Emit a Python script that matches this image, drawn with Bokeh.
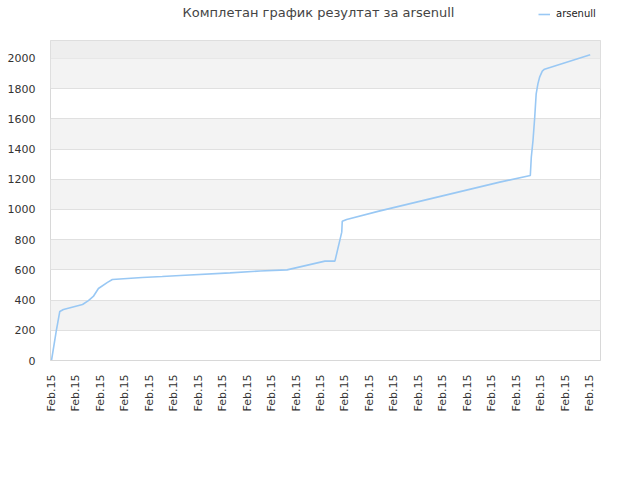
import math
from bokeh.plotting import figure
from bokeh.layouts import column
from bokeh.models import (FixedTicker, Range1d, Legend, LegendItem, BoxAnnotation, Label)
from bokeh.embed import file_html
from bokeh.resources import INLINE

# data: time position (in label steps) and cumulative result
t_vals = [0.0, 0.20, 0.34, 0.49, 1.27, 1.51, 1.71, 1.92, 2.29, 2.49, 3.71, 4.53, 5.27,
          7.30, 8.53, 9.63, 11.18, 11.59, 11.87, 11.89, 12.07, 13.39, 18.33, 19.58,
          19.62, 19.69, 19.76, 19.82, 19.89, 19.96, 20.07, 20.16, 22.03]
scores = [0, 199, 325, 338, 371, 397, 424, 477, 517, 536, 550, 556, 563,
          580, 593, 600, 658, 658, 850, 922, 934, 989, 1181, 1225,
          1346, 1457, 1611, 1766, 1832, 1876, 1916, 1929, 2025]
x_tick_labels = ["Feb.15"] * 23
y_ticks = [0, 200, 400, 600, 800, 1000, 1200, 1400, 1600, 1800, 2000]
series_name = "arsenull"
title_text = "Комплетан график резултат за arsenull"

LINE_COLOR = "#99c8f4"
W = 640
HDR_SHIFT = 50  # header frame is aligned with the main frame's left edge

# ---- header strip: title + legend ----
top = figure(width=W, height=40, output_backend="svg", toolbar_location=None,
             x_range=Range1d(0, 1), y_range=Range1d(0, 1),
             x_axis_location=None, y_axis_location=None,
             min_border_left=0, min_border_right=0, min_border_top=0,
             min_border_bottom=0)
top.grid.visible = False
top.outline_line_color = None
top.background_fill_color = "white"
top.border_fill_color = "white"
top.add_layout(Label(x=318 - HDR_SHIFT, y=28, x_units="screen", y_units="screen",
                     text=title_text, text_align="center", text_baseline="middle",
                     text_font="DejaVu Sans", text_font_size="13px",
                     text_color="#444444"))
# legend proxy: a line renderer with a single undefined point (draws nothing itself)
dummy = top.line([float("nan")], [float("nan")], line_color=LINE_COLOR, line_width=1.6)
legend = Legend(items=[LegendItem(label=series_name, renderers=[dummy])],
                location=(538 - HDR_SHIFT, 21), orientation="horizontal",
                background_fill_alpha=0, border_line_color=None,
                label_text_font="DejaVu Sans", label_text_font_size="10px",
                label_text_color="#222222", glyph_width=12, glyph_height=10,
                padding=0, margin=0, label_standoff=6, label_height=10)
top.add_layout(legend, "center")

# ---- main chart ----
p = figure(width=W, height=440, output_backend="svg", toolbar_location=None,
           x_range=Range1d(-0.04, 22.45), y_range=Range1d(0, 2119),
           min_border_left=50, min_border_right=40, min_border_top=0,
           min_border_bottom=120)
p.background_fill_color = "white"
p.border_fill_color = "white"
p.outline_line_color = "#d8d8d8"

p.xgrid.grid_line_color = None
p.ygrid.grid_line_color = "#e0e0e0"
p.ygrid.ticker = FixedTicker(ticks=y_ticks)
p.ygrid.band_fill_color = "#f3f3f3"
p.ygrid.band_fill_alpha = 1.0
p.add_layout(BoxAnnotation(bottom=y_ticks[-1], fill_color="#eeeeee", fill_alpha=1.0,
                           line_color=None, level="underlay"))

p.xaxis.ticker = FixedTicker(ticks=list(range(len(x_tick_labels))))
p.xaxis.major_label_overrides = {i: lab for i, lab in enumerate(x_tick_labels)}
p.xaxis.major_label_orientation = math.pi / 2
p.yaxis.ticker = FixedTicker(ticks=y_ticks)
for ax in (p.xaxis[0], p.yaxis[0]):
    ax.major_tick_line_color = None
    ax.minor_tick_line_color = None
    ax.major_label_text_font = "DejaVu Sans"
    ax.major_label_text_font_size = "11px"
    ax.major_label_text_color = "#333333"
p.xaxis.axis_line_color = "#d8d8d8"
p.yaxis.axis_line_color = None
p.xaxis.major_label_standoff = 8
p.yaxis.major_label_standoff = 9

p.line(t_vals, scores, line_color=LINE_COLOR, line_width=1.6)

layout = column(top, p, spacing=0)
open("out.html", "w").write(file_html(layout, INLINE))
